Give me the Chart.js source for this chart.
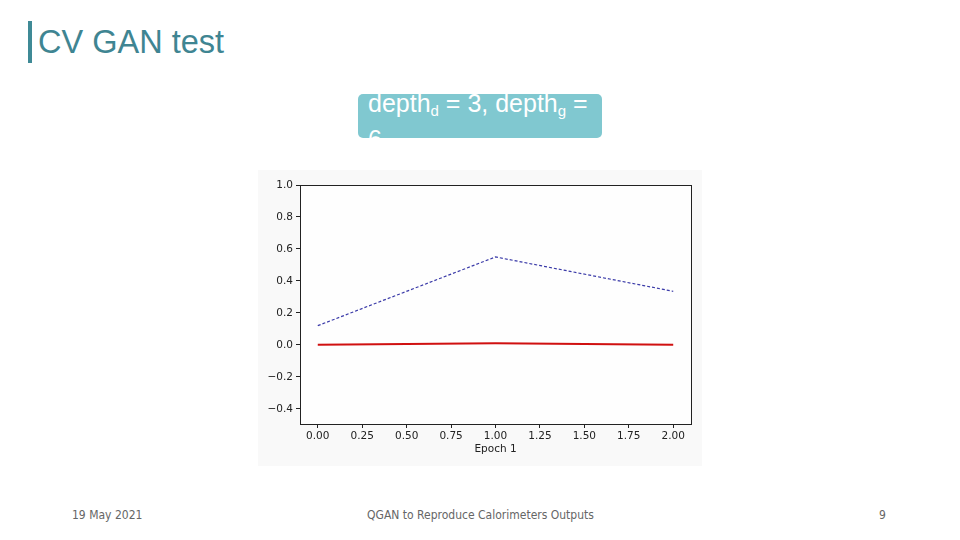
<!DOCTYPE html>
<html>
<head>
<meta charset="utf-8">
<script src="https://cdn.jsdelivr.net/npm/chart.js@4.4.0/dist/chart.umd.min.js"></script>
<style>
  html, body { margin: 0; padding: 0; background: #fff; }
  body { width: 960px; height: 540px; position: relative; overflow: hidden; font-family: "Liberation Sans", Arial, sans-serif; }
  #bar { position: absolute; left: 28px; top: 21px; width: 4px; height: 42px; background: #3f8a96; }
  #title { position: absolute; left: 38px; top: 23px; font-size: 32.5px; color: #3f8592; line-height: 38px; }
  #box { position: absolute; left: 358px; top: 94px; width: 244px; height: 44px; background: #80c8d0; border-radius: 5px; overflow: visible; }
  #boxtext { position: absolute; left: 10px; top: -5px; color: #fff; font-size: 25px; line-height: 28px; white-space: nowrap; }
  #boxtext sub { font-size: 15px; vertical-align: -4px; }
  #figure { position: absolute; left: 258px; top: 170px; width: 444px; height: 296px; background: #f9f9f9; }
  .foot { position: absolute; top: 508px; font-family: "DejaVu Sans Condensed", "Liberation Sans Narrow", sans-serif; font-size: 12px; color: #666; }
</style>
</head>
<body>
<div id="bar"></div>
<div id="title">CV GAN test</div>
<div id="box"><div id="boxtext">depth<sub>d</sub> = 3, depth<sub>g</sub> =<br>6</div></div>
<div id="figure"><canvas id="c" width="444" height="296"></canvas></div>
<div class="foot" style="left:72px">19 May 2021</div>
<div class="foot" style="left:360px;width:241px;text-align:center">QGAN to Reproduce Calorimeters Outputs</div>
<div class="foot" style="left:879px">9</div>
<script>
// данные графика (читаем с картинки)
const epochs = [0, 1, 2];
const blueSeries = [0.12, 0.55, 0.335];
const redSeries = [0.0, 0.01, 0.0];
const xTicks = [0, 0.25, 0.5, 0.75, 1.0, 1.25, 1.5, 1.75, 2.0];
const yTicks = [-0.4, -0.2, 0.0, 0.2, 0.4, 0.6, 0.8, 1.0];

// белый фон и рамка вокруг области графика как в matplotlib
const frame = {
  id: 'frame',
  beforeDraw(chart) {
    const a = chart.chartArea, ctx = chart.ctx;
    ctx.save();
    ctx.fillStyle = '#fefefe';
    ctx.fillRect(a.left, a.top, a.right - a.left, a.bottom - a.top);
    ctx.restore();
  },
  afterDraw(chart) {
    const a = chart.chartArea, ctx = chart.ctx;
    ctx.save();
    ctx.strokeStyle = '#222';
    ctx.lineWidth = 1;
    ctx.strokeRect(Math.round(a.left) + 0.5, Math.round(a.top) + 0.5, Math.round(a.right - a.left), Math.round(a.bottom - a.top));
    ctx.restore();
  }
};

const tickFont = { family: 'DejaVu Sans', size: 10.5 };

new Chart(document.getElementById('c'), {
  type: 'line',
  data: {
    datasets: [
      {
        data: epochs.map((x, i) => ({ x: x, y: blueSeries[i] })),
        borderColor: '#3a3aa8', borderWidth: 1.2, borderDash: [3, 2],
        pointRadius: 0, fill: false, tension: 0
      },
      {
        data: epochs.map((x, i) => ({ x: x, y: redSeries[i] })),
        borderColor: '#d01010', borderWidth: 2,
        pointRadius: 0, fill: false, tension: 0
      }
    ]
  },
  options: {
    responsive: false,
    animation: false,
    layout: { padding: { top: 15, right: 11, left: 0, bottom: 0 } },
    plugins: { legend: { display: false }, tooltip: { enabled: false } },
    scales: {
      x: {
        type: 'linear', min: -0.1, max: 2.1,
        afterBuildTicks: s => { s.ticks = xTicks.map(v => ({ value: v })); },
        afterFit: s => { s.height = 42; },
        grid: { drawOnChartArea: false, drawTicks: true, tickLength: 4, color: '#222' },
        border: { display: false },
        ticks: { color: '#222', font: tickFont, padding: 2, maxRotation: 0, autoSkip: false,
                 callback: v => v.toFixed(2) },
        title: { display: true, text: 'Epoch 1', color: '#222', font: tickFont, padding: { top: 0, bottom: 10 } }
      },
      y: {
        min: -0.495, max: 1.0,
        afterBuildTicks: s => { s.ticks = yTicks.map(v => ({ value: v })); },
        afterFit: s => { s.width = 42; },
        grid: { drawOnChartArea: false, drawTicks: true, tickLength: 4, color: '#222' },
        border: { display: false },
        ticks: { color: '#222', font: tickFont, padding: 3, autoSkip: false,
                 callback: v => (v < 0 ? '\u2212' : '') + Math.abs(v).toFixed(1) }
      }
    }
  },
  plugins: [frame]
});
</script>
</body>
</html>
